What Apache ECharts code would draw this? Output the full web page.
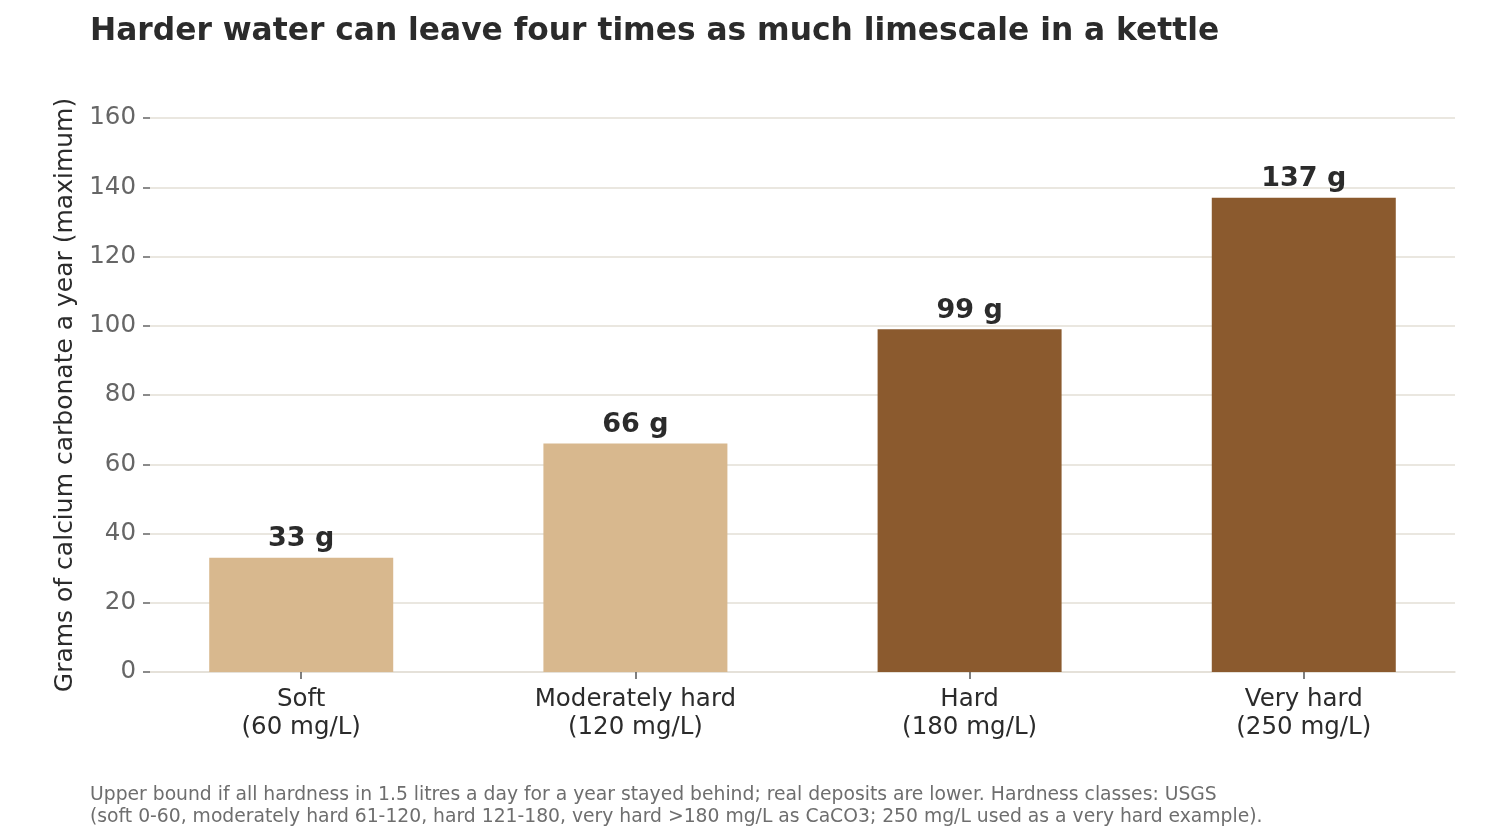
<!DOCTYPE html>
<html>
<head>
<meta charset="utf-8">
<script src="https://cdn.jsdelivr.net/npm/echarts@6/dist/echarts.min.js"></script>
<style>
html,body{margin:0;padding:0;background:#fff;}
#chart{width:1500px;height:840px;}
</style>
</head>
<body>
<div id="chart"></div>
<script>
const categories = ['Soft\n(60 mg/L)', 'Moderately hard\n(120 mg/L)', 'Hard\n(180 mg/L)', 'Very hard\n(250 mg/L)'];
const values = [33, 66, 99, 137];
const barColors = ['#d8b88e', '#d8b88e', '#8b5a2e', '#8b5a2e'];
const yTicks = [0, 20, 40, 60, 80, 100, 120, 140, 160];
const titleText = 'Harder water can leave four times as much limescale in a kettle';
const yName = 'Grams of calcium carbonate a year (maximum)';
const noteLines = [
  'Upper bound if all hardness in 1.5 litres a day for a year stayed behind; real deposits are lower. Hardness classes: USGS',
  '(soft 0-60, moderately hard 61-120, hard 121-180, very hard >180 mg/L as CaCO3; 250 mg/L used as a very hard example).'
];

const FONT = 'DejaVu Sans';
const chart = echarts.init(document.getElementById('chart'), null, {renderer: 'canvas'});
const positions = categories.map((c, i) => i);

chart.setOption({
  animation: false,
  backgroundColor: '#ffffff',
  textStyle: {fontFamily: FONT},
  title: {
    text: titleText,
    left: 85, top: 11,
    textStyle: {fontFamily: FONT, fontSize: 31.3, fontWeight: 'bold', color: '#2b2b2b'}
  },
  graphic: noteLines.map((t, i) => ({
    type: 'text', left: 90, top: 786 + i * 22,
    style: {text: t, fontFamily: FONT, fontSize: 18.75, fill: '#6e6e6e'}
  })),
  grid: {left: 150, right: 45, top: 118, bottom: 168, containLabel: false},
  xAxis: {
    type: 'value',
    min: -0.4525, max: 3.4525,
    axisLine: {show: true, onZero: false, lineStyle: {color: '#e3dfd6', width: 1.5}},
    axisTick: {show: true, customValues: positions, length: 7, lineStyle: {color: '#555', width: 1.5}},
    axisLabel: {
      show: true, customValues: positions, margin: 14,
      fontFamily: FONT, fontSize: 24.5, color: '#2b2b2b', lineHeight: 28,
      formatter: v => categories[Math.round(v)] || ''
    },
    splitLine: {show: false}
  },
  yAxis: {
    type: 'value', min: 0, max: 160, interval: 20,
    name: yName, nameLocation: 'middle', nameGap: 72, nameRotate: 90,
    nameTextStyle: {fontFamily: FONT, fontSize: 25, color: '#2b2b2b'},
    axisLine: {show: false, onZero: false},
    axisTick: {show: true, length: 7, lineStyle: {color: '#666', width: 1.5}},
    axisLabel: {fontFamily: FONT, fontSize: 24.5, color: '#666666', margin: 14, padding: [3, 0, 0, 0],
      formatter: v => yTicks.includes(v) ? String(v) : ''},
    splitLine: {show: true, lineStyle: {color: '#e3dfd6', width: 1.5}}
  },
  series: [{
    type: 'bar',
    barWidth: 184,
    data: values.map((v, i) => ({value: [positions[i], v], itemStyle: {color: barColors[i]}})),
    label: {
      show: true, position: 'top', distance: 5,
      fontFamily: FONT, fontSize: 27, fontWeight: 'bold', color: '#2b2b2b',
      formatter: p => p.value[1] + ' g'
    },
    z: 3
  }]
});
</script>
</body>
</html>
